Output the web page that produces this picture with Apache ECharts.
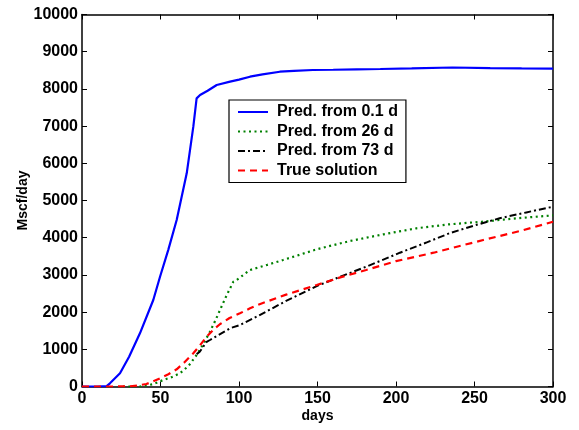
<!DOCTYPE html>
<html>
<head>
<meta charset="utf-8">
<script src="https://cdn.jsdelivr.net/npm/echarts@6/dist/echarts.min.js"></script>
<style>
html,body{margin:0;padding:0;background:#fff;}
#chart{width:579px;height:430px;}
</style>
</head>
<body>
<div id="chart"></div>
<script>
// Pred. from 0.1 d
const blueDays = [0.1, 10, 15.7, 17.8, 24.2, 30, 36.9, 45.4, 49.7, 55, 60.3, 66.7, 70.9, 73, 74.1, 75.2, 80, 85.8, 94.3, 100, 107, 115, 126, 135, 147, 160, 175, 190, 210, 236, 260, 280, 300];
const blueVals = [0, 0, 10, 86, 355, 800, 1430, 2325, 2950, 3680, 4475, 5730, 6985, 7745, 7790, 7836, 7950, 8105, 8194, 8250, 8328, 8390, 8462, 8485, 8508, 8515, 8525, 8535, 8550, 8575, 8560, 8550, 8543];
// Pred. from 26 d
const greenDays = [26, 37, 45, 51.8, 57, 62.4, 68, 73, 77, 81.5, 85, 87.9, 92, 96.4, 98.5, 107, 118, 128, 140, 149.5, 160, 170.7, 192, 213, 234, 255, 277, 300];
const greenVals = [0, 0, 60, 175, 250, 355, 560, 847, 1120, 1473, 1780, 2056, 2440, 2817, 2863, 3132, 3270, 3400, 3560, 3688, 3800, 3911, 4091, 4253, 4360, 4430, 4522, 4600];
// Pred. from 73 d
const blackDays = [73, 75, 79.4, 81.5, 94.3, 100.6, 112.3, 130, 149.5, 165, 181, 202.5, 220, 234, 250, 266, 283, 300];
const blackVals = [870, 935, 1200, 1250, 1565, 1653, 1900, 2300, 2700, 2960, 3220, 3597, 3880, 4118, 4330, 4522, 4680, 4833];
// True solution
const redDays = [0, 20, 30, 35, 41, 45, 49.7, 55, 60.3, 65, 70.9, 75, 79.4, 84, 88, 94, 100.6, 107, 112.3, 130, 149.5, 165, 181, 200, 224, 240, 255.6, 280, 300];
const redVals = [0, 0, 5, 25, 67, 130, 220, 330, 462, 640, 892, 1100, 1339, 1540, 1680, 1840, 1968, 2102, 2200, 2470, 2728, 2940, 3132, 3370, 3597, 3770, 3938, 4190, 4430];
const xTicks = [0, 50, 100, 150, 200, 250, 300];
const yTicks = [0, 1000, 2000, 3000, 4000, 5000, 6000, 7000, 8000, 9000, 10000];

const pairs = (xs, ys) => xs.map((x, i) => [x, ys[i]]);
const FONT = '"Liberation Sans", Arial, sans-serif';

const chart = echarts.init(document.getElementById('chart'), null, {renderer: 'canvas'});
const axisLine = () => ({show: true, onZero: false, lineStyle: {color: '#000', width: 1.5}});
const tick = () => ({show: true, inside: true, length: 5, lineStyle: {color: '#000', width: 1}});
chart.setOption({
  animation: false,
  backgroundColor: '#fff',
  grid: {left: 82, right: 26, top: 14.5, bottom: 43.5, show: false, containLabel: false, outerBoundsMode: 'none'},
  legend: {
    orient: 'vertical',
    left: 229, top: 100,
    padding: [4, 8, 4, 8],
    itemGap: 3.5,
    itemWidth: 30, itemHeight: 12,
    borderColor: '#000', borderWidth: 1.2, borderRadius: 0,
    backgroundColor: '#fff',
    itemStyle: {opacity: 0},
    textStyle: {fontFamily: FONT, fontWeight: 'bold', fontSize: 16, color: '#000', padding: [0, 0, 0, 4]},
    data: ['Pred. from 0.1 d', 'Pred. from 26 d', 'Pred. from 73 d', 'True solution']
  },
  xAxis: [{
    type: 'value', min: 0, max: 300, interval: 50, position: 'bottom',
    name: 'days', nameLocation: 'middle', nameGap: 23, nameMoveOverlap: false,
    nameTextStyle: {fontFamily: FONT, fontWeight: 'bold', fontSize: 14, color: '#000'},
    axisLine: axisLine(), axisTick: tick(), splitLine: {show: false},
    axisLabel: {fontFamily: FONT, fontWeight: 'bold', fontSize: 16, color: '#000', margin: 4,
      formatter: v => xTicks.includes(v) ? String(v) : ''}
  }, {
    type: 'value', min: 0, max: 300, interval: 50, position: 'top',
    axisLine: axisLine(), axisTick: tick(), splitLine: {show: false}, axisLabel: {show: false}
  }],
  yAxis: [{
    type: 'value', min: 0, max: 10000, interval: 1000, position: 'left',
    name: 'Mscf/day', nameLocation: 'middle', nameGap: 52, nameRotate: 90, nameMoveOverlap: false,
    nameTextStyle: {fontFamily: FONT, fontWeight: 'bold', fontSize: 14, color: '#000'},
    axisLine: axisLine(), axisTick: tick(), splitLine: {show: false},
    axisLabel: {fontFamily: FONT, fontWeight: 'bold', fontSize: 16, color: '#000', margin: 4,
      formatter: v => yTicks.includes(v) ? String(v) : ''}
  }, {
    type: 'value', min: 0, max: 10000, interval: 1000, position: 'right',
    axisLine: axisLine(), axisTick: tick(), splitLine: {show: false}, axisLabel: {show: false}
  }],
  series: [
    {name: 'Pred. from 0.1 d', type: 'line', showSymbol: false, symbol: 'none', data: pairs(blueDays, blueVals),
     lineStyle: {color: '#0000ff', width: 2.2, type: 'solid'}, itemStyle: {color: '#0000ff'}, z: 2},
    {name: 'Pred. from 26 d', type: 'line', showSymbol: false, symbol: 'none', data: pairs(greenDays, greenVals),
     lineStyle: {color: '#008000', width: 2.2, type: [2, 3.5]}, itemStyle: {color: '#008000'}, z: 3},
    {name: 'Pred. from 73 d', type: 'line', showSymbol: false, symbol: 'none', data: pairs(blackDays, blackVals),
     lineStyle: {color: '#000', width: 2, type: [7, 3, 2, 3]}, itemStyle: {color: '#000'}, z: 4},
    {name: 'True solution', type: 'line', showSymbol: false, symbol: 'none', data: pairs(redDays, redVals),
     lineStyle: {color: '#ff0000', width: 2.2, type: [7, 5]}, itemStyle: {color: '#ff0000'}, z: 5}
  ]
});
</script>
</body>
</html>
